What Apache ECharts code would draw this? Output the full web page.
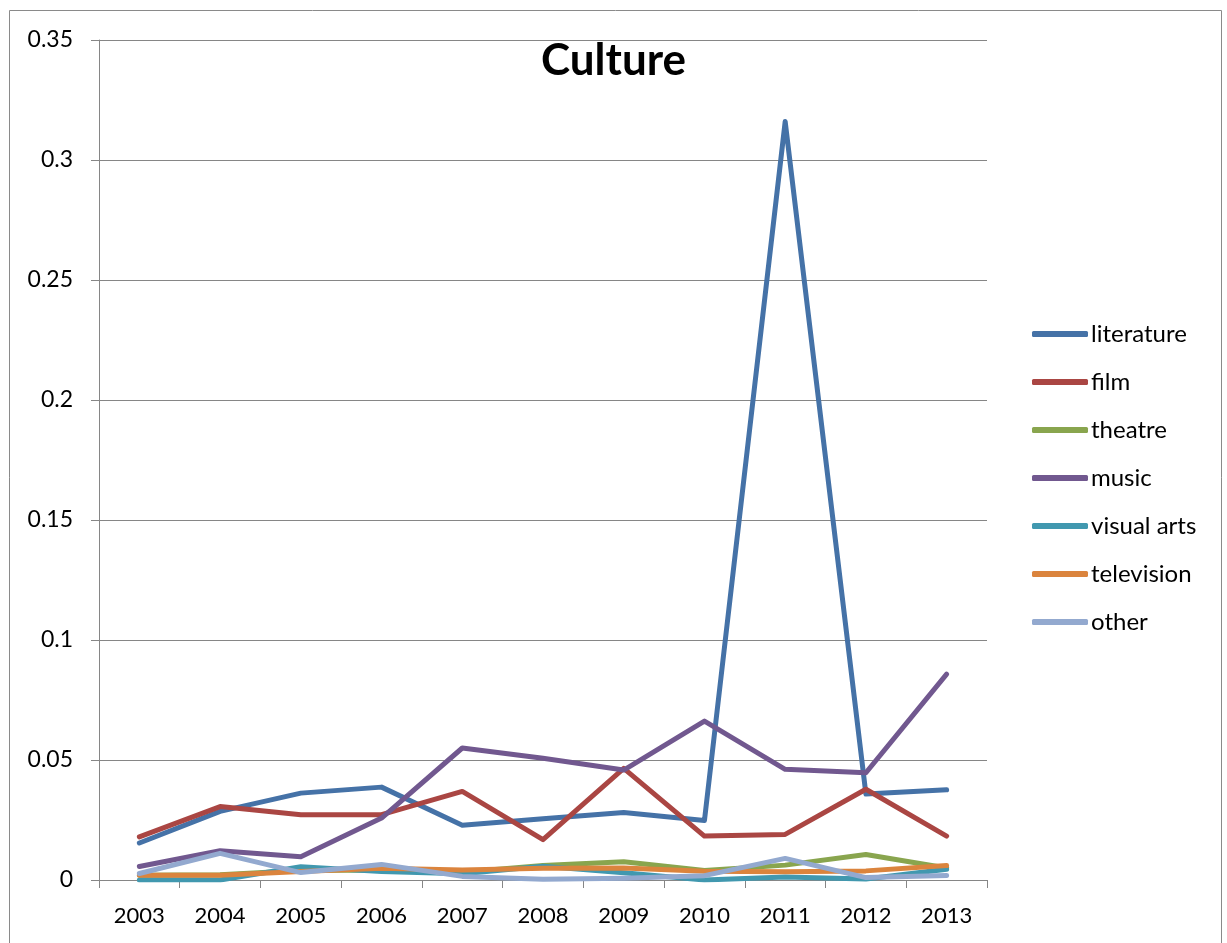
<!DOCTYPE html>
<html>
<head>
<meta charset="utf-8">
<title>Culture</title>
<script src="https://cdn.jsdelivr.net/npm/echarts@6/dist/echarts.min.js"></script>
<style>
  html, body { margin: 0; padding: 0; background: #ffffff; }
  #chart { width: 1227px; height: 943px; }
</style>
</head>
<body>
<div id="chart"></div>
<script>
// Years along the category axis
const years = ['2003', '2004', '2005', '2006', '2007', '2008', '2009', '2010', '2011', '2012', '2013'];

// Share per cultural domain, one array per series
const literature = [0.0154, 0.0286, 0.0362, 0.0387, 0.0228, 0.0255, 0.0281, 0.0248, 0.316, 0.0358, 0.0376];
const film       = [0.0180, 0.0306, 0.0272, 0.0272, 0.0369, 0.0168, 0.0465, 0.0183, 0.0190, 0.0378, 0.0183];
const theatre    = [0.0020, 0.0022, 0.0040, 0.0042, 0.0032, 0.0060, 0.0076, 0.0040, 0.0062, 0.0106, 0.0050];
const music      = [0.0056, 0.0122, 0.0097, 0.0258, 0.0550, 0.0507, 0.0458, 0.0662, 0.0461, 0.0447, 0.0858];
const visualArts = [0.0000, 0.0000, 0.0055, 0.0035, 0.0026, 0.0057, 0.0030, 0.0000, 0.0012, 0.0004, 0.0045];
const television = [0.0020, 0.0020, 0.0035, 0.0049, 0.0042, 0.0049, 0.0050, 0.0036, 0.0034, 0.0038, 0.0060];
const other      = [0.0027, 0.0111, 0.0031, 0.0065, 0.0015, 0.0003, 0.0007, 0.0018, 0.0090, 0.0010, 0.0019];

// Y axis ticks
const yMin = 0, yMax = 0.35, yStep = 0.05;

const seriesNames = ['literature', 'film', 'theatre', 'music', 'visual arts', 'television', 'other'];
const seriesData = [literature, film, theatre, music, visualArts, television, other];
const seriesColors = ['#4572A7', '#AA4643', '#89A54E', '#71588F', '#4198AF', '#DB843D', '#93A9CF'];

const FONT = 'Lato, "Open Sans", sans-serif';
const AXIS_GRAY = '#868686';

const chart = echarts.init(document.getElementById('chart'), null, { renderer: 'canvas' });

chart.setOption({
  animation: false,
  backgroundColor: '#ffffff',
  color: seriesColors,
  textStyle: { fontFamily: FONT, color: '#000' },
  title: {
    text: 'Culture',
    left: 'center',
    top: 34,
    textStyle: { fontFamily: FONT, fontWeight: 'bold', fontSize: 44, color: '#000' }
  },
  graphic: [{
    type: 'rect',
    silent: true,
    shape: { x: 9.5, y: 10.5, width: 1212, height: 960 },
    style: { fill: 'none', stroke: '#8a8a8a', lineWidth: 1 }
  }],
  grid: { left: 99, right: 240, top: 40, bottom: 63, containLabel: false },
  legend: {
    orient: 'vertical',
    left: 1027,
    top: 317,
    itemWidth: 56,
    itemHeight: 6,
    itemGap: 24,
    icon: 'roundRect',
    textStyle: { fontFamily: FONT, fontSize: 24, color: '#000', padding: [0, 0, 0, -2] },
    data: seriesNames
  },
  xAxis: {
    type: 'category',
    data: years,
    boundaryGap: true,
    axisLine: { lineStyle: { color: AXIS_GRAY, width: 1 } },
    axisTick: { show: true, length: 8, lineStyle: { color: AXIS_GRAY } },
    axisLabel: { fontFamily: FONT, fontSize: 22, color: '#000', margin: 25 },
    splitLine: { show: false }
  },
  yAxis: {
    type: 'value',
    min: yMin,
    max: yMax,
    interval: yStep,
    axisLine: { show: true, lineStyle: { color: AXIS_GRAY, width: 1 } },
    axisTick: { show: true, length: 8, lineStyle: { color: AXIS_GRAY } },
    axisLabel: {
      fontFamily: FONT, fontSize: 23, color: '#000', margin: 26,
      formatter: v => String(parseFloat(v.toFixed(2)))
    },
    splitLine: { show: true, lineStyle: { color: AXIS_GRAY, width: 1 } }
  },
  series: seriesNames.map((name, i) => ({
    name: name,
    type: 'line',
    data: seriesData[i],
    symbol: 'none',
    smooth: false,
    lineStyle: { width: 5, color: seriesColors[i], cap: 'round', join: 'round' },
    itemStyle: { color: seriesColors[i] }
  }))
});
</script>
</body>
</html>
